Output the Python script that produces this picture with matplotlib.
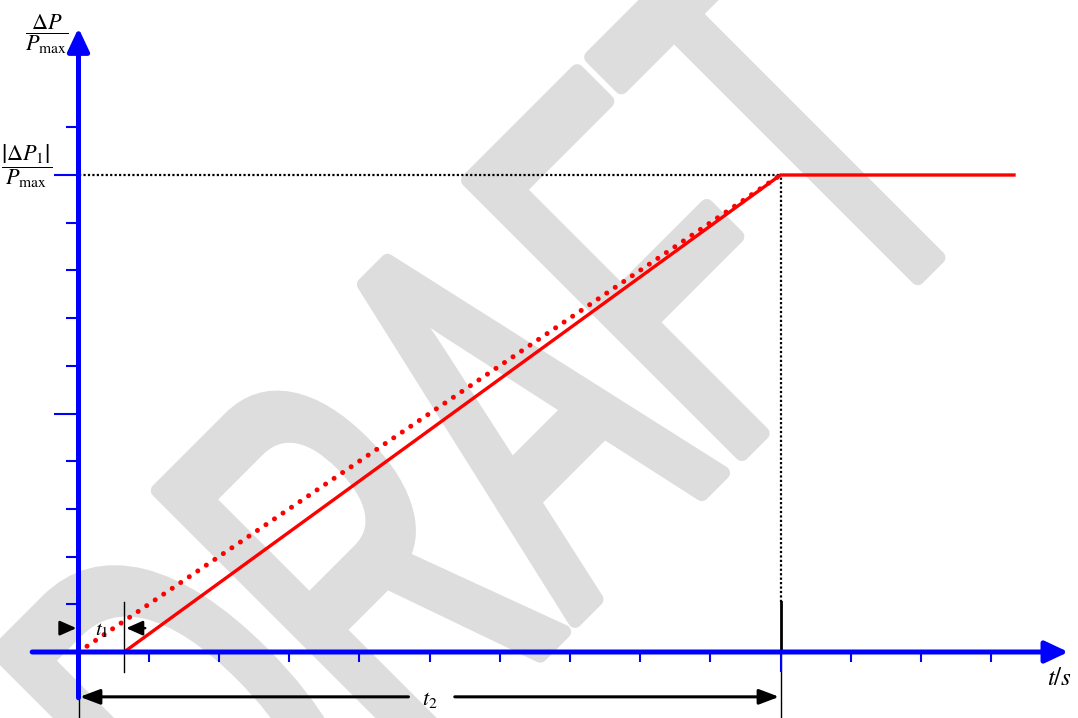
"""Power ramp sketch: normalised power step with delay t1 and ramp time t2."""

import matplotlib
matplotlib.use("Agg")
import matplotlib.pyplot as plt
from matplotlib.textpath import TextPath
from matplotlib.patches import PathPatch
from matplotlib.font_manager import FontProperties
from matplotlib.transforms import Affine2D, IdentityTransform

plt.rcParams["mathtext.fontset"] = "stix"

# data (x in tick units, y in tick units; |dP1|/Pmax sits on tick 10)
t1 = 0.65
t2 = 10.0
t_end = 13.35
p_level = 10.0

real_t = [t1, t2, t_end]
real_p = [0.0, p_level, p_level]
ideal_t = [0.0, t2]
ideal_p = [0.0, p_level]

x_ticks = [1, 2, 3, 4, 5, 6, 7, 8, 9, 10, 11, 12, 13]
x_major = [10]
y_ticks = [1, 2, 3, 4, 5, 6, 7, 8, 9, 10, 11]
y_major = [5, 10]

x_axis_span = (-0.66, 14.1)
y_axis_span = (-0.96, 13.08)

BLUE = "#0000ff"
RED = "#ff0000"
GREY = "#dddddd"

W, H, DPI = 1078, 718, 100
fig = plt.figure(figsize=(W / DPI, H / DPI), dpi=DPI)
ax = fig.add_axes([0, 0, 1, 1])
ax.set_xlim(-78.5 / 70.2, (W - 78.5) / 70.2)
ax.set_ylim(-66 / 47.7, 652 / 47.7)
ax.axis("off")

# watermark, condensed and rotated, drawn behind everything
tp = TextPath((0, 0), "DRAFT", size=1, prop=FontProperties(family="Liberation Sans"))
wm = Affine2D().scale(0.561 * 563, 563).rotate_deg(45).translate(252, H - 944)
fig.add_artist(PathPatch(wm.transform_path(tp), facecolor=GREY, edgecolor=GREY,
                         lw=10, joinstyle="round", transform=IdentityTransform(),
                         zorder=-1))

# axes with arrow heads
arrow_kw = dict(arrowstyle="-|>,head_length=0.7,head_width=0.33", mutation_scale=20,
                lw=3.6, color=BLUE, shrinkA=0, shrinkB=0)
ax.annotate("", xy=(x_axis_span[1], 0), xytext=(x_axis_span[0], 0),
            arrowprops=arrow_kw, zorder=4)
ax.annotate("", xy=(0, y_axis_span[1]), xytext=(0, y_axis_span[0]),
            arrowprops=arrow_kw, zorder=4)

# ticks
for y in y_ticks:
    ln = 0.35 if y in y_major else 0.18
    ax.plot([-ln, 0], [y, y], color=BLUE, lw=1.5, solid_capstyle="butt", zorder=4)
for x in x_ticks:
    ln = 0.42 if x in x_major else 0.20
    ax.plot([x, x], [0, -ln], color=BLUE, lw=1.5, solid_capstyle="butt", zorder=4)

# guide lines
ax.plot([0, t2], [p_level, p_level], color="black", lw=1.6, ls=(0, (1, 1)), zorder=2)
ax.plot([t2, t2], [1.05, p_level], color="black", lw=1.6, ls=(0, (1, 1)), zorder=2)
ax.plot([t2, t2], [0, 1.05], color="black", lw=2.0, zorder=2)
ax.plot([t2, t2], [-1.4, 0], color="black", lw=1.0, zorder=2)
ax.plot([0, 0], [-1.4, 0], color="black", lw=1.0, zorder=2)
ax.plot([t1, t1], [-0.42, 1.05], color="black", lw=1.0, zorder=2)

# curves
ax.plot(ideal_t, ideal_p, color=RED, lw=3.6, ls=(0, (0.01, 2.05)),
        dash_capstyle="round", zorder=3)
ax.plot(real_t, real_p, color=RED, lw=2.4, solid_capstyle="butt", zorder=3)

# t1 dimension
small = dict(arrowstyle="-|>,head_length=0.9,head_width=0.4", mutation_scale=11,
             lw=1.8, color="black", shrinkA=0, shrinkB=0)
ax.annotate("", xy=(-0.03, 0.5), xytext=(-0.26, 0.5), arrowprops=small, zorder=5)
ax.annotate("", xy=(t1 + 0.03, 0.5), xytext=(0.95, 0.5), arrowprops=small, zorder=5)
ax.text(0.33, 0.47, r"$t_1$", fontsize=15, ha="center", va="center", zorder=5)

# t2 dimension
big = dict(arrowstyle="-|>,head_length=1.0,head_width=0.38", mutation_scale=12,
           lw=2.2, color="black", shrinkA=0, shrinkB=0)
ax.annotate("", xy=(0.02, -0.94), xytext=(4.7, -0.94), arrowprops=big, zorder=5)
ax.annotate("", xy=(t2 - 0.02, -0.94), xytext=(5.36, -0.94), arrowprops=big, zorder=5)
ax.text(5.0, -1.0, r"$t_2$", fontsize=16, ha="center", va="center", zorder=5)

# labels
ax.text(-0.45, 12.95, r"$\dfrac{\Delta P}{P_{\max}}$", fontsize=16,
        ha="center", va="center")
ax.text(-0.74, 10.18, r"$\dfrac{\left|\Delta P_1\right|}{P_{\max}}$", fontsize=16,
        ha="center", va="center")
ax.text(13.98, -0.55, r"$t/s$", fontsize=18, ha="center", va="center")

fig.savefig("out.png", dpi=DPI)
